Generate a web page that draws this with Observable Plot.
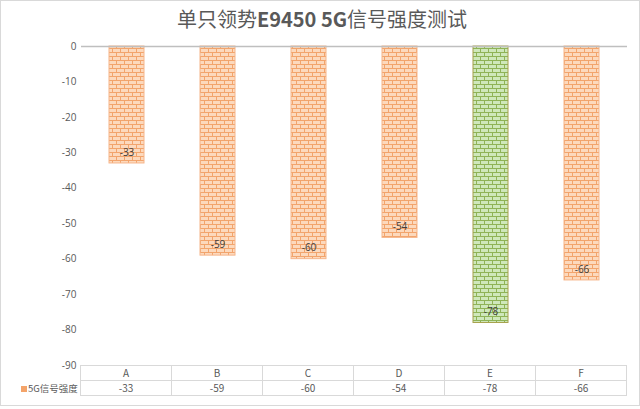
<!DOCTYPE html>
<html>
<head>
<meta charset="utf-8">
<script src="https://cdn.jsdelivr.net/npm/d3@7"></script>
<script src="https://cdn.jsdelivr.net/npm/@observablehq/plot@0.6"></script>
<style>
  html, body { margin: 0; padding: 0; background: #fff; }
  #wrap { position: relative; width: 640px; height: 409px; overflow: hidden;
          font-family: "Noto Sans CJK SC", "Open Sans", sans-serif; }
  #frame { position: absolute; left: 0; top: 0; width: 640px; height: 406px; border: 1px solid #d9d9d9; box-sizing: border-box; }
  #title { position: absolute; left: 0; top: 4px; width: 644px; text-align: center;
           font-size: 20px; color: #595959; line-height: 30px; }
  #title b { font-weight: 700; }
  #chart { position: absolute; left: 0; top: 0; }
  table { position: absolute; left: 80px; top: 365px; width: 547px; border-collapse: collapse;
          table-layout: fixed; font-size: 10px; color: #595959; }
  td { border: 1px solid #d9d9d9; text-align: center; height: 14px; padding: 0; line-height: 14px; }
  #legend { position: absolute; left: 21px; top: 381px; font-size: 9.5px; color: #595959; line-height: 14px; }
  #legend span.sw { display: inline-block; width: 6px; height: 6px; background: #f4a46a; margin-right: 1px; vertical-align: 0px; }
</style>
</head>
<body>
<div id="wrap">
  <div id="frame"></div>
  <div id="chart"></div>
  <div id="title">单只领势<b>E9450 5G</b>信号强度测试</div>
  <div id="legend"><span class="sw"></span><span id="lgtext"></span></div>
</div>
<script>
const categories = ["A", "B", "C", "D", "E", "F"];
const values = [-33, -59, -60, -54, -78, -66];
const highlight = ["E"];
const seriesName = "5G信号强度";
const yTicks = [0, -10, -20, -30, -40, -50, -60, -70, -80, -90];

const data = categories.map((c, i) => ({cat: c, value: values[i], kind: highlight.includes(c) ? "hi" : "normal"}));

const chart = Plot.plot({
  width: 640,
  height: 380,
  marginTop: 46,
  marginBottom: 15,
  marginLeft: 81,
  marginRight: 13,
  style: {fontFamily: "'Open Sans', 'Noto Sans', sans-serif", fontSize: "10px", color: "#595959", background: "transparent"},
  x: {domain: categories, paddingInner: 0.615, paddingOuter: 0.3075, axis: null},
  y: {domain: [-90, 0], ticks: yTicks, label: null},
  color: {type: "ordinal", domain: ["normal", "hi"], range: ["url(#brickO)", "url(#brickG)"]},
  marks: [
    Plot.axisY({ticks: yTicks, tickSize: 0, tickPadding: 5, label: null, fill: "#595959", fontSize: 10,
      tickFormat: d => String(d)}),
    Plot.barY(data, {x: "cat", y: "value", fill: "kind",
      stroke: d => d.kind === "hi" ? "#a6a04a" : "#f6b58a", strokeWidth: 1}),
    Plot.ruleY([0], {stroke: "#bfbfbf", strokeWidth: 1.3}),
    Plot.text(data, {x: "cat", y: "value", text: d => String(d.value), dy: -11, fill: "#404040", fontSize: 10})
  ]
});

// brick patterns
const ns = "http://www.w3.org/2000/svg";
const defs = document.createElementNS(ns, "defs");
function brick(id, bg, line) {
  const p = document.createElementNS(ns, "pattern");
  p.setAttribute("id", id);
  p.setAttribute("patternUnits", "userSpaceOnUse");
  p.setAttribute("width", 8);
  p.setAttribute("height", 8);
  p.innerHTML = `<rect width="8" height="8" fill="${bg}"/>
    <path d="M0,0.5H8M0,4.5H8M0.5,0.5V4.5M4.5,4.5V8.5" stroke="${line}" stroke-width="1" fill="none"/>`;
  defs.appendChild(p);
}
brick("brickO", "#fcd9bd", "#f2a46c");
brick("brickG", "#cfe8bb", "#8fb356");
chart.insertBefore(defs, chart.firstChild);
document.getElementById("chart").appendChild(chart);

// data table
const table = document.createElement("table");
const r1 = table.insertRow();
categories.forEach(c => { r1.insertCell().textContent = c; });
const r2 = table.insertRow();
values.forEach(v => { r2.insertCell().textContent = String(v); });
document.getElementById("wrap").appendChild(table);
document.getElementById("lgtext").textContent = seriesName;
</script>
</body>
</html>
